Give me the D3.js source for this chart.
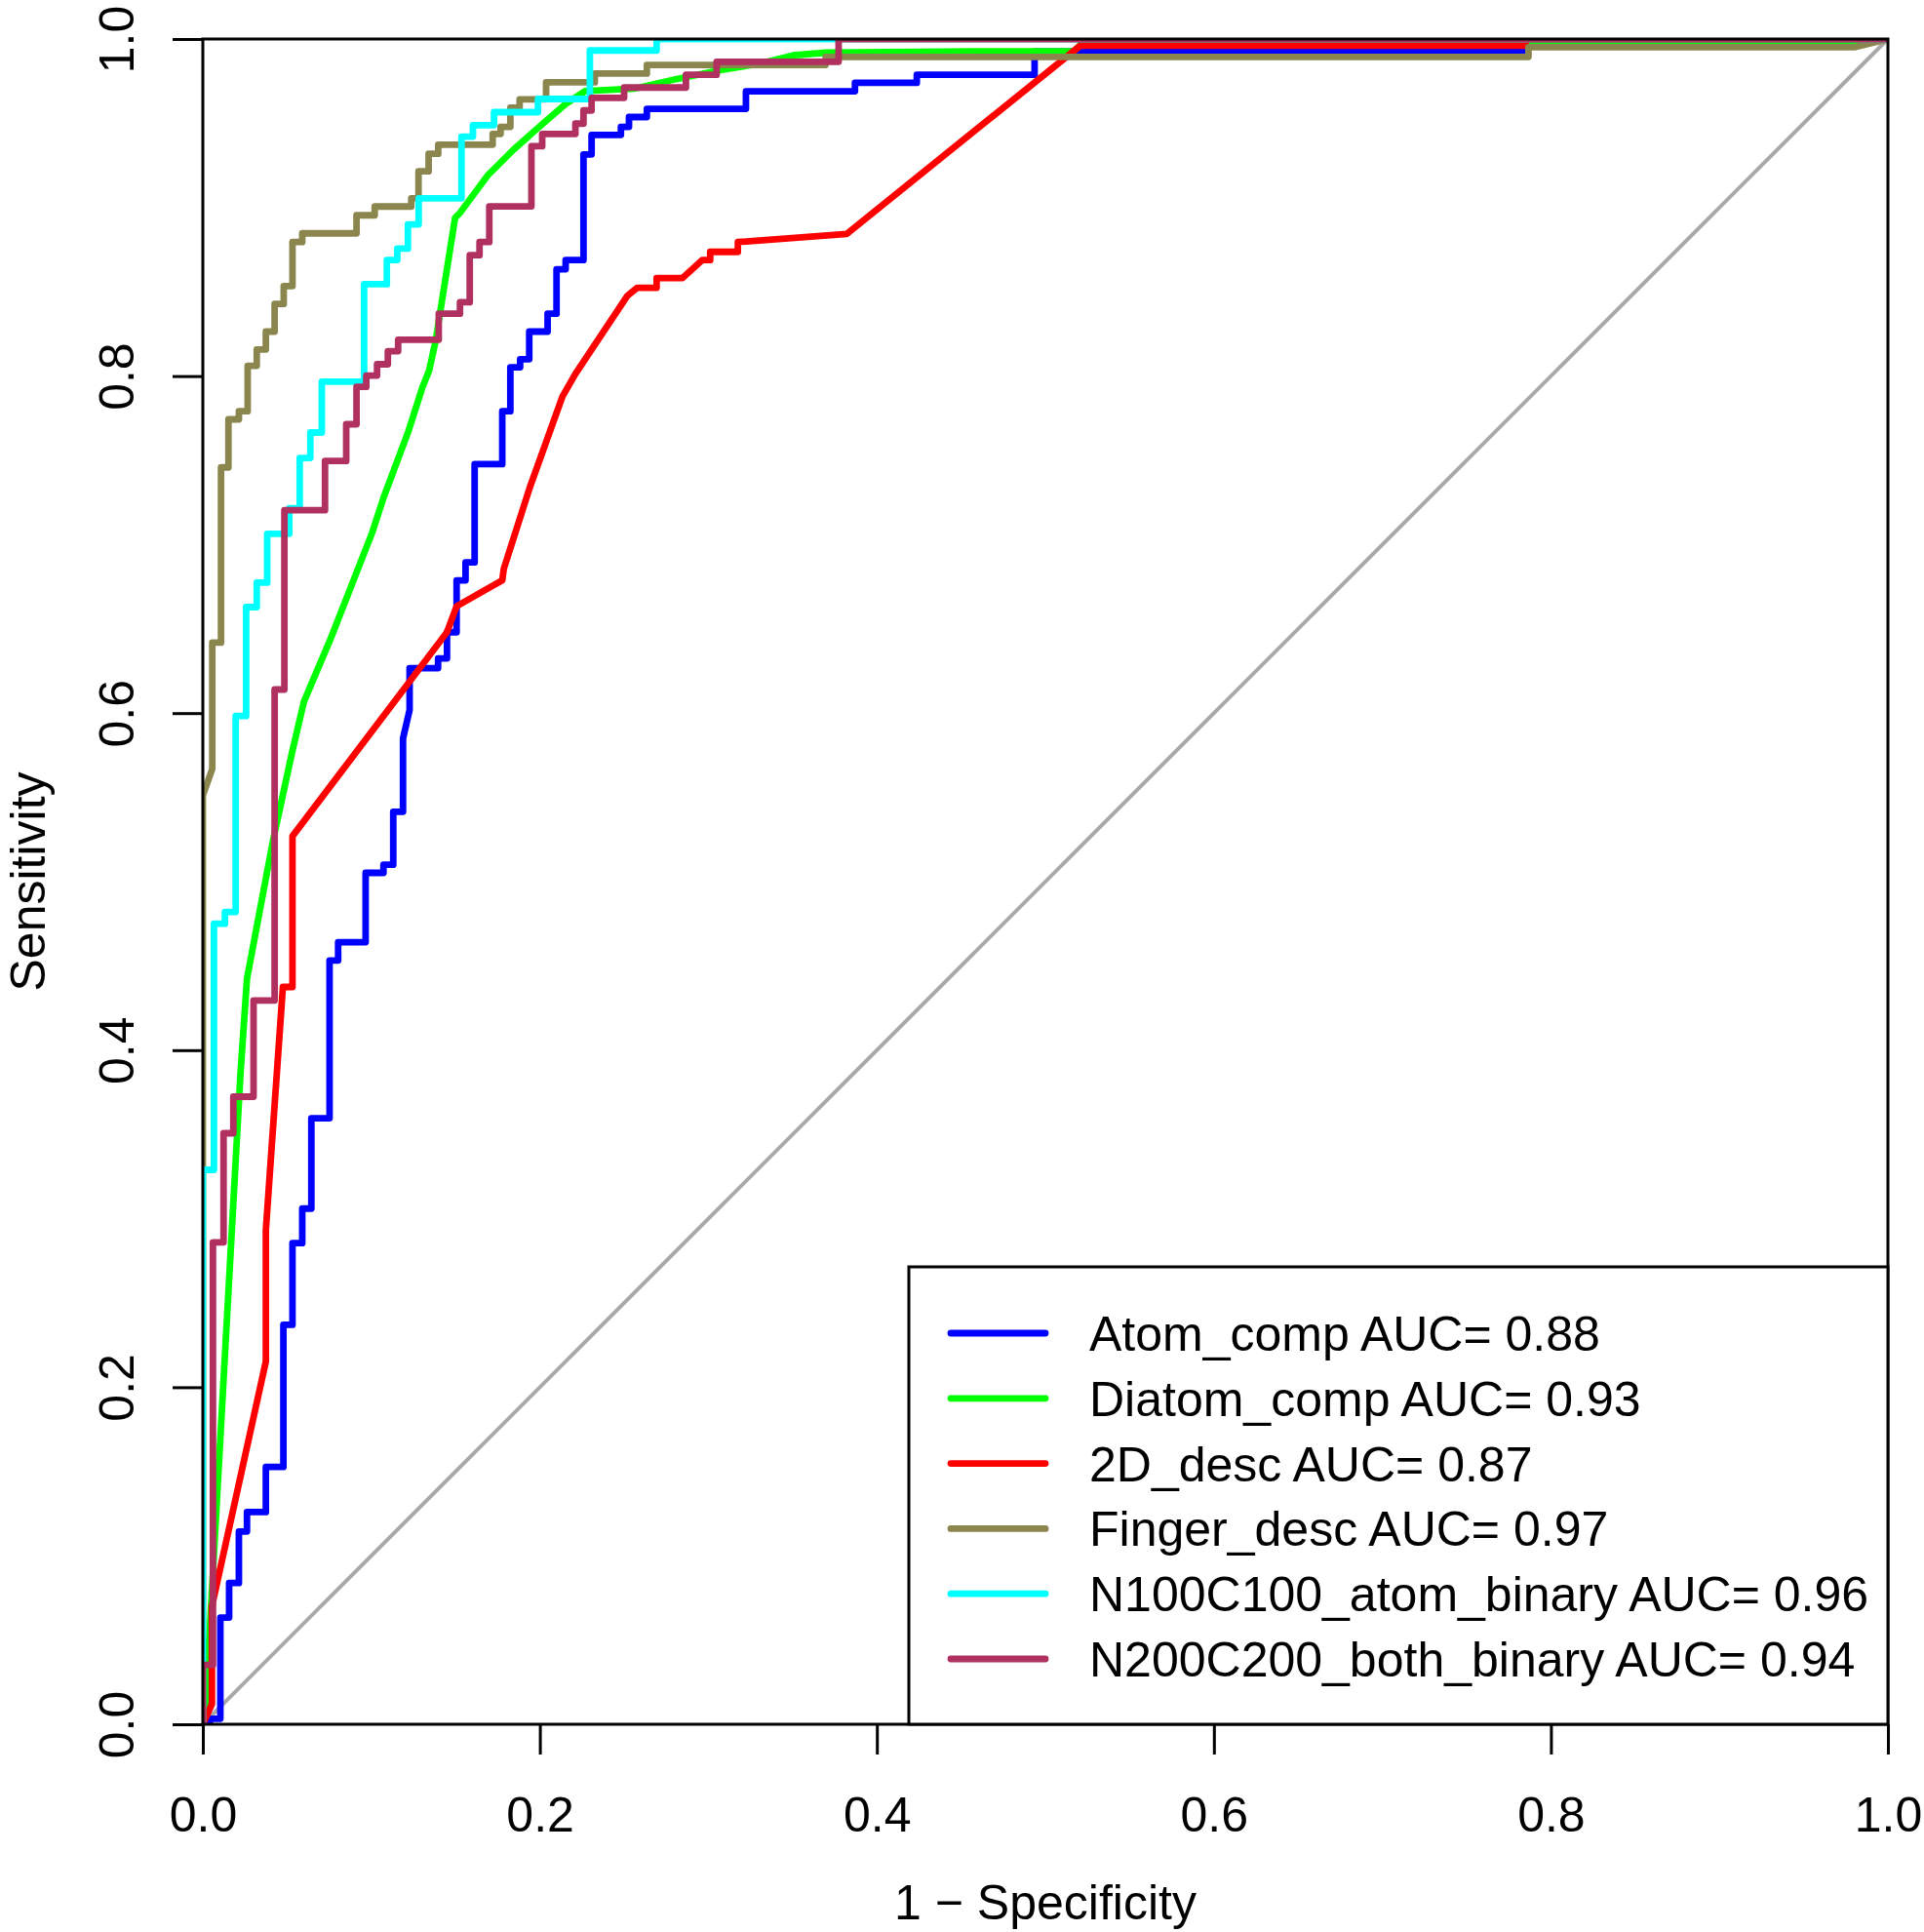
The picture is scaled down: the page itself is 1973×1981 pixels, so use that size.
<!DOCTYPE html>
<html>
<head>
<meta charset="utf-8">
<script src="https://cdn.jsdelivr.net/npm/d3@7"></script>
<style>
  body { margin: 0; background: #fff; }
  svg { display: block; font-family: "Liberation Sans", Arial, Helvetica, sans-serif; }
</style>
</head>
<body>
<div id="roc"></div>
<script>
// axis ticks
const tickValues = [0, 0.2, 0.4, 0.6, 0.8, 1.0];

// ROC curves, [1 - specificity, sensitivity]
const atomComp = [[0,0],[0.0041,0],[0.0041,0.0033],[0.0104,0.0033],[0.0104,0.0633],[0.0156,0.0633],[0.0156,0.0838],[0.0214,0.0838],[0.0214,0.1144],[0.0262,0.1144],[0.0262,0.1259],[0.0374,0.1259],[0.0374,0.1527],[0.0478,0.1527],[0.0478,0.237],[0.0532,0.237],[0.0532,0.2855],[0.059,0.2855],[0.059,0.306],[0.0644,0.306],[0.0644,0.3596],[0.0752,0.3596],[0.0752,0.4532],[0.0803,0.4532],[0.0803,0.4641],[0.0966,0.4641],[0.0966,0.5052],[0.1072,0.5052],[0.1072,0.51],[0.113,0.51],[0.113,0.5415],[0.1188,0.5415],[0.1188,0.585],[0.1227,0.6019],[0.1227,0.6267],[0.1396,0.6267],[0.1396,0.6325],[0.1449,0.6325],[0.1449,0.648],[0.1506,0.648],[0.1506,0.6788],[0.1559,0.6788],[0.1559,0.6894],[0.1613,0.6894],[0.1613,0.7477],[0.1777,0.7477],[0.1777,0.7791],[0.1825,0.7791],[0.1825,0.8052],[0.1883,0.8052],[0.1883,0.81],[0.1937,0.81],[0.1937,0.8264],[0.2046,0.8264],[0.2046,0.837],[0.2099,0.837],[0.2099,0.8634],[0.2153,0.8634],[0.2153,0.8688],[0.2259,0.8688],[0.2259,0.9315],[0.2307,0.9315],[0.2307,0.9431],[0.2481,0.9431],[0.2481,0.9479],[0.2529,0.9479],[0.2529,0.9537],[0.2635,0.9537],[0.2635,0.9586],[0.3223,0.9586],[0.3223,0.969],[0.387,0.969],[0.387,0.974],[0.4237,0.974],[0.4237,0.9788],[0.4936,0.9788],[0.4936,0.9925],[0.785,0.9925],[0.785,1],[1,1]];

const diatomComp = [[0,0],[0.0015,0.012],[0.0031,0.0378],[0.0224,0.387],[0.0262,0.4424],[0.0417,0.5246],[0.0532,0.5778],[0.06,0.6068],[0.0764,0.6455],[0.1005,0.7071],[0.1072,0.7277],[0.1217,0.7664],[0.1304,0.7936],[0.1343,0.8032],[0.1381,0.8206],[0.1497,0.8939],[0.1526,0.8968],[0.169,0.919],[0.1844,0.9344],[0.2018,0.9498],[0.2153,0.9614],[0.2269,0.9691],[0.2558,0.9705],[0.28,0.976],[0.3079,0.9817],[0.331,0.9855],[0.3503,0.9903],[0.3696,0.9919],[0.4583,0.9927],[0.5168,0.9927],[0.5208,0.9965],[0.969,0.9965],[1,1]];

const desc2D = [[0,0],[0.0054,0.012],[0.0054,0.07],[0.0073,0.0787],[0.0374,0.2153],[0.0374,0.2932],[0.0475,0.4375],[0.0532,0.4375],[0.0532,0.527],[0.1449,0.648],[0.1506,0.6634],[0.1777,0.6788],[0.1786,0.6856],[0.194,0.7338],[0.2134,0.7878],[0.2211,0.8013],[0.2519,0.8476],[0.2577,0.8524],[0.2693,0.8524],[0.2693,0.8582],[0.2847,0.8582],[0.2963,0.8688],[0.3011,0.8688],[0.3011,0.8737],[0.3175,0.8737],[0.3175,0.8795],[0.3821,0.8843],[0.5208,0.9961],[0.785,0.9961],[0.785,1],[1,1]];

const fingerDesc = [[0,0],[0,0.5512],[0.0056,0.5669],[0.0056,0.6418],[0.0108,0.6418],[0.0108,0.7458],[0.0152,0.7458],[0.0152,0.7743],[0.0214,0.7743],[0.0214,0.7791],[0.0266,0.7791],[0.0266,0.8061],[0.032,0.8061],[0.032,0.8158],[0.0374,0.8158],[0.0374,0.8264],[0.0426,0.8264],[0.0426,0.8428],[0.048,0.8428],[0.048,0.8534],[0.0532,0.8534],[0.0532,0.8795],[0.059,0.8795],[0.059,0.8847],[0.0912,0.8847],[0.0912,0.8954],[0.102,0.8954],[0.102,0.9006],[0.1237,0.9006],[0.1237,0.9055],[0.128,0.9055],[0.128,0.9215],[0.134,0.9215],[0.134,0.9319],[0.1397,0.9319],[0.1397,0.9373],[0.172,0.9373],[0.172,0.9437],[0.1767,0.9437],[0.1767,0.9479],[0.1825,0.9479],[0.1825,0.9592],[0.188,0.9592],[0.188,0.9642],[0.2037,0.9642],[0.2037,0.9743],[0.2326,0.9743],[0.2326,0.9795],[0.2635,0.9795],[0.2635,0.9846],[0.3696,0.9846],[0.3696,0.9894],[0.7867,0.9894],[0.7867,0.9952],[0.9807,0.9952],[1,1]];

const n100AtomBinary = [[0,0],[0,0.329],[0.0066,0.329],[0.0066,0.475],[0.0131,0.475],[0.0131,0.482],[0.0195,0.482],[0.0195,0.5983],[0.0257,0.5983],[0.0257,0.6629],[0.032,0.6629],[0.032,0.6774],[0.0382,0.6774],[0.0382,0.7064],[0.0513,0.7064],[0.0513,0.7216],[0.0575,0.7216],[0.0575,0.7514],[0.0638,0.7514],[0.0638,0.7665],[0.0706,0.7665],[0.0706,0.7967],[0.0957,0.7967],[0.0957,0.8545],[0.1092,0.8545],[0.1092,0.8689],[0.1154,0.8689],[0.1154,0.8756],[0.1217,0.8756],[0.1217,0.89],[0.1281,0.89],[0.1281,0.9055],[0.1535,0.9055],[0.1535,0.9421],[0.1603,0.9421],[0.1603,0.9489],[0.1728,0.9489],[0.1728,0.9566],[0.1989,0.9566],[0.1989,0.9644],[0.2297,0.9644],[0.2297,0.9932],[0.2693,0.9932],[0.2693,1],[1,1]];

const n200BothBinary = [[0,0],[0,0.0352],[0.006,0.0352],[0.006,0.286],[0.0123,0.286],[0.0123,0.3507],[0.0181,0.3507],[0.0181,0.3724],[0.0301,0.3724],[0.0301,0.4295],[0.0426,0.4295],[0.0426,0.614],[0.0484,0.614],[0.0484,0.7204],[0.0725,0.7204],[0.0725,0.7496],[0.0851,0.7496],[0.0851,0.7714],[0.0912,0.7714],[0.0912,0.7936],[0.097,0.7936],[0.097,0.8003],[0.1034,0.8003],[0.1034,0.807],[0.1098,0.807],[0.1098,0.8148],[0.1159,0.8148],[0.1159,0.8216],[0.14,0.8216],[0.14,0.837],[0.1526,0.837],[0.1526,0.8438],[0.1584,0.8438],[0.1584,0.8717],[0.1642,0.8717],[0.1642,0.8795],[0.17,0.8795],[0.17,0.9007],[0.195,0.9007],[0.195,0.9364],[0.2014,0.9364],[0.2014,0.9437],[0.2211,0.9437],[0.2211,0.9498],[0.2259,0.9498],[0.2259,0.9576],[0.2307,0.9576],[0.2307,0.9651],[0.25,0.9651],[0.25,0.9712],[0.2867,0.9712],[0.2867,0.9788],[0.3049,0.9788],[0.3049,0.9865],[0.3773,0.9865],[0.3773,1],[1,1]];

const seriesNames = ["Atom_comp", "Diatom_comp", "2D_desc", "Finger_desc", "N100C100_atom_binary", "N200C200_both_binary"];
const seriesAUC = [0.88, 0.93, 0.87, 0.97, 0.96, 0.94];
const seriesColors = ["#0000FF", "#00FF00", "#FF0000", "#8B864E", "#00FFFF", "#B03060"];
const seriesData = [atomComp, diatomComp, desc2D, fingerDesc, n100AtomBinary, n200BothBinary];

function drawROC() {
  const container = d3.select("#roc");
  container.selectAll("*").remove();

  const width = 1973;
  const height = 1981;
  const margin = { top: 40, right: 37, bottom: 213, left: 208 };
  const fontSize = 50;
  const curveWidth = 6.8;

  const svg = container.append("svg")
    .attr("width", width)
    .attr("height", height);

  svg.append("rect")
    .attr("width", width)
    .attr("height", height)
    .attr("fill", "#fff");

  const x = d3.scaleLinear()
    .domain([0, 1])
    .range([margin.left, width - margin.right]);

  const y = d3.scaleLinear()
    .domain([0, 1])
    .range([height - margin.bottom, margin.top]);

  svg.append("clipPath")
    .attr("id", "plot-clip")
    .append("rect")
    .attr("x", x(0))
    .attr("y", y(1))
    .attr("width", x(1) - x(0))
    .attr("height", y(0) - y(1));

  // chance diagonal
  svg.append("line")
    .attr("x1", x(0)).attr("y1", y(0))
    .attr("x2", x(1)).attr("y2", y(1))
    .attr("stroke", "#A9A9A9")
    .attr("stroke-width", 4);

  const line = d3.line()
    .x(d => x(d[0]))
    .y(d => y(d[1]));

  const curves = svg.append("g").attr("clip-path", "url(#plot-clip)");
  seriesData.forEach((data, i) => {
    curves.append("path")
      .datum(data)
      .attr("fill", "none")
      .attr("stroke", seriesColors[i])
      .attr("stroke-width", curveWidth)
      .attr("stroke-linejoin", "round")
      .attr("stroke-linecap", "round")
      .attr("d", line);
  });

  // axes
  const xAxis = svg.append("g")
    .attr("transform", `translate(0,${y(0)})`)
    .call(d3.axisBottom(x).tickValues(tickValues).tickFormat(d3.format(".1f"))
      .tickSize(31).tickSizeOuter(0).tickPadding(43));
  xAxis.select(".domain").remove();
  xAxis.selectAll("line").attr("stroke", "#000").attr("stroke-width", 3);
  xAxis.selectAll("text")
    .attr("font-size", fontSize)
    .attr("font-family", "Liberation Sans, Arial, sans-serif")
    .attr("fill", "#000");

  const yAxis = svg.append("g")
    .attr("transform", `translate(${x(0)},0)`)
    .call(d3.axisLeft(y).tickValues(tickValues).tickFormat(d3.format(".1f"))
      .tickSize(31).tickSizeOuter(0));
  yAxis.select(".domain").remove();
  yAxis.selectAll("line").attr("stroke", "#000").attr("stroke-width", 3);
  yAxis.selectAll("text")
    .attr("x", null)
    .attr("dy", null)
    .attr("text-anchor", "middle")
    .attr("transform", "translate(-71,0) rotate(-90)")
    .attr("font-size", fontSize)
    .attr("font-family", "Liberation Sans, Arial, sans-serif")
    .attr("fill", "#000");

  // frame
  svg.append("rect")
    .attr("x", x(0))
    .attr("y", y(1))
    .attr("width", x(1) - x(0))
    .attr("height", y(0) - y(1))
    .attr("fill", "none")
    .attr("stroke", "#000")
    .attr("stroke-width", 3);

  // axis titles
  svg.append("text")
    .attr("x", (x(0) + x(1)) / 2)
    .attr("y", 1968)
    .attr("text-anchor", "middle")
    .attr("font-size", fontSize)
    .text("1 \u2212 Specificity");

  svg.append("text")
    .attr("transform", `translate(46,${(y(0) + y(1)) / 2}) rotate(-90)`)
    .attr("text-anchor", "middle")
    .attr("font-size", fontSize)
    .text("Sensitivity");

  // legend
  const legendLeft = 932;
  const legendTop = 1299;
  const rowStart = 1367;
  const rowStep = 66.8;

  svg.append("rect")
    .attr("x", legendLeft)
    .attr("y", legendTop)
    .attr("width", x(1) - legendLeft)
    .attr("height", y(0) - legendTop)
    .attr("fill", "#fff")
    .attr("stroke", "#000")
    .attr("stroke-width", 3);

  const legend = svg.append("g");
  seriesNames.forEach((name, i) => {
    const cy = rowStart + i * rowStep;
    legend.append("line")
      .attr("x1", 975).attr("x2", 1072)
      .attr("y1", cy).attr("y2", cy)
      .attr("stroke", seriesColors[i])
      .attr("stroke-width", curveWidth)
      .attr("stroke-linecap", "round");
    legend.append("text")
      .attr("x", 1117)
      .attr("y", cy + 18)
      .attr("font-size", fontSize)
      .text(`${name} AUC= ${seriesAUC[i].toFixed(2)}`);
  });
}

drawROC();
</script>
</body>
</html>
